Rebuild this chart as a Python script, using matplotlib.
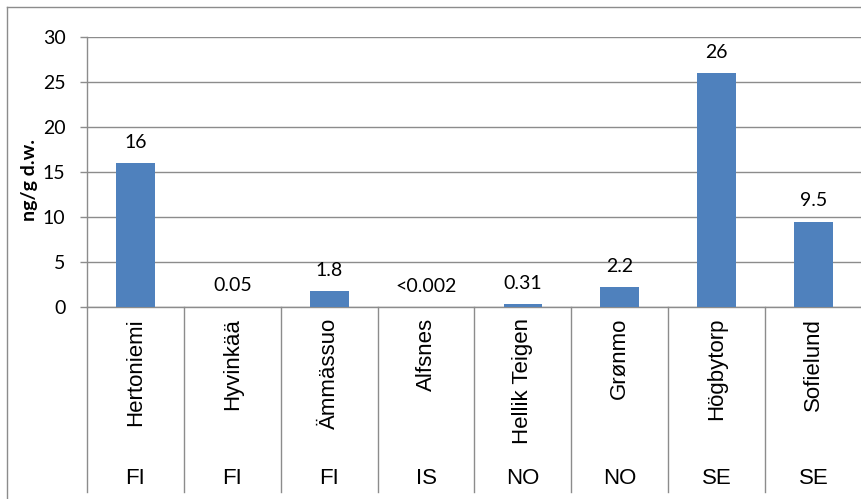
import matplotlib.pyplot as plt
import matplotlib.transforms as mtransforms
from matplotlib.lines import Line2D

# Sample sites, country codes and measured concentrations
sites = ['Hertoniemi', 'Hyvinkää', 'Ämmässuo', 'Alfsnes', 'Hellik Teigen',
         'Grønmo', 'Högbytorp', 'Sofielund']
countries = ['FI', 'FI', 'FI', 'IS', 'NO', 'NO', 'SE', 'SE']
values = [16, 0.05, 1.8, 0.002, 0.31, 2.2, 26, 9.5]
value_labels = ['16', '0.05', '1.8', '<0.002', '0.31', '2.2', '26', '9.5']
y_ticks = [0, 5, 10, 15, 20, 25, 30]

W, H = 862, 499
bar_color = '#4F81BD'
line_color = '#8C8C8C'
num_font = 'Lato'
cat_font = 'Liberation Sans'

fig = plt.figure(figsize=(W / 100, H / 100), dpi=100)

# plot area in pixel coordinates
left, right, top, bottom = 87, 862, 37, 307
ax = fig.add_axes([left / W, 1 - bottom / H, (right - left) / W, (bottom - top) / H])

x = range(len(sites))
ax.bar(x, values, width=0.4, color=bar_color, zorder=3)

ax.set_xlim(-0.5, len(sites) - 0.5)
ax.set_ylim(0, 30)
ax.set_yticks(y_ticks)
ax.set_yticklabels([str(t) for t in y_ticks], fontname=num_font, fontsize=14)
ax.set_xticks([])
ax.yaxis.grid(True, color=line_color, linewidth=1.0, zorder=0)
ax.tick_params(axis='y', length=5, width=1.0, color=line_color, pad=10.5)

for side in ['top', 'right']:
    ax.spines[side].set_visible(False)
for side in ['left', 'bottom']:
    ax.spines[side].set_color(line_color)
    ax.spines[side].set_linewidth(1.0)

# value labels above the bars
for i, (v, lab) in enumerate(zip(values, value_labels)):
    ax.annotate(lab, (i, v), xytext=(0, 11), textcoords='offset points',
                ha='center', va='baseline', fontname=num_font, fontsize=14)

# two-level category axis below the plot
trans = mtransforms.blended_transform_factory(ax.transData, ax.transAxes)
span = bottom - top
sep_bottom = -(492 - bottom) / span
for b in range(len(sites) + 1):
    ax.add_line(Line2D([b - 0.5, b - 0.5], [0, sep_bottom], transform=trans,
                       color=line_color, linewidth=1.0, clip_on=False))

for i, (site, cc) in enumerate(zip(sites, countries)):
    ax.text(i, -(318 - bottom) / span, site, transform=trans, rotation=90,
            ha='center', va='top', fontname=cat_font, fontsize=16)
    ax.text(i, -(478 - bottom) / span, cc, transform=trans,
            ha='center', va='center', fontname=cat_font, fontsize=16)

fig.text(30 / W, 1 - 180 / H, 'ng/g d.w.', rotation=90, ha='center', va='center',
         fontname=num_font, fontweight='bold', fontsize=14)

# chart frame (left and top edges fall inside the image)
fig.add_artist(Line2D([7.5 / W, 7.5 / W], [0, 1 - 7 / H], transform=fig.transFigure,
                      color=line_color, linewidth=1.0))
fig.add_artist(Line2D([7.5 / W, 1], [1 - 7 / H, 1 - 7 / H], transform=fig.transFigure,
                      color=line_color, linewidth=1.0))

fig.savefig('out.png', dpi=100)
